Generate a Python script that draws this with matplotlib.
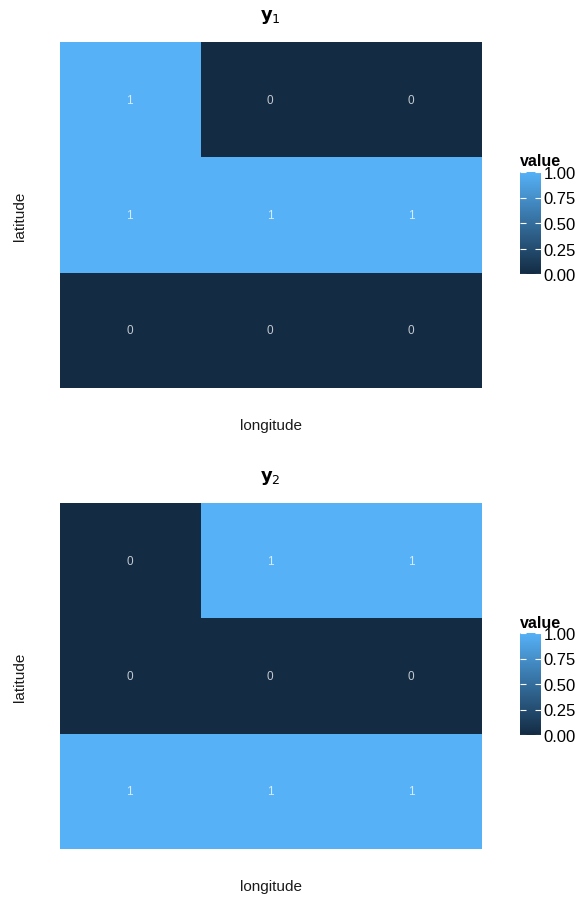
import matplotlib
matplotlib.use("Agg")
import matplotlib.pyplot as plt
import numpy as np
from matplotlib.colors import LinearSegmentedColormap

# 격자 값 (위쪽 행부터)
longitude = [1, 2, 3]
latitude = [3, 2, 1]
y1 = [[1, 0, 0],
      [1, 1, 1],
      [0, 0, 0]]
y2 = [[0, 1, 1],
      [0, 0, 0],
      [1, 1, 1]]
titles = [r"$\mathbf{y}_{1}$", r"$\mathbf{y}_{2}$"]
cbar_ticks = [0.0, 0.25, 0.5, 0.75, 1.0]

cmap = LinearSegmentedColormap.from_list("gg", ["#132B43", "#56B1F7"])
plt.rcParams["font.family"] = ["Liberation Sans", "DejaVu Sans"]

W, H = 582, 903
fig = plt.figure(figsize=(W / 100, H / 100), dpi=100)


def fx(px):
    return px / W


def fy(py):
    return 1 - py / H


panels = [(y1, titles[0], 0), (y2, titles[1], 461)]
for grid, title, off in panels:
    top, bot = 43 + off, 389 + off
    ax = fig.add_axes([fx(60), fy(bot), fx(482) - fx(60), (bot - top) / H])
    z = np.array(grid, dtype=float)
    xe = np.arange(len(longitude) + 1) + 0.5
    ye = np.arange(len(latitude) + 1) + 0.5
    # 위쪽 행이 위도 큰 값이 되도록 뒤집기
    mesh = ax.pcolormesh(xe, ye, z[::-1], cmap=cmap, vmin=0, vmax=1)
    for i, lat in enumerate(latitude):
        for j, lon in enumerate(longitude):
            ax.text(lon - 0.005, lat, "%d" % grid[i][j], ha="center", va="center",
                    color="white", alpha=0.75, fontsize=8.5)
    ax.set_xlim(0.5, 3.5)
    ax.set_ylim(0.5, 3.5)
    ax.axis("off")

    fig.text(fx(270), fy(17 + off), title, ha="center", va="center", fontsize=13)
    fig.text(fx(271), fy(426 + off), "longitude", ha="center", va="center",
             fontsize=11, color="#1a1a1a")
    fig.text(fx(20), fy(216 + off), "latitude", ha="center", va="center",
             rotation=90, fontsize=11, color="#1a1a1a")

    # 범례 컬러바
    cax = fig.add_axes([fx(520), fy(275 + off), fx(541) - fx(520), 102 / H])
    cb = fig.colorbar(mesh, cax=cax, ticks=cbar_ticks)
    cb.outline.set_visible(False)
    cb.ax.set_yticklabels(["%.2f" % t for t in cbar_ticks])
    cb.ax.tick_params(direction="in", color="white", length=4, width=0.8,
                      left=True, right=True, labelsize=12, pad=2)
    fig.text(fx(520), fy(162 + off), "value", ha="left", va="center",
             fontsize=11.5, fontweight="bold")

fig.savefig("out.png", dpi=100)
